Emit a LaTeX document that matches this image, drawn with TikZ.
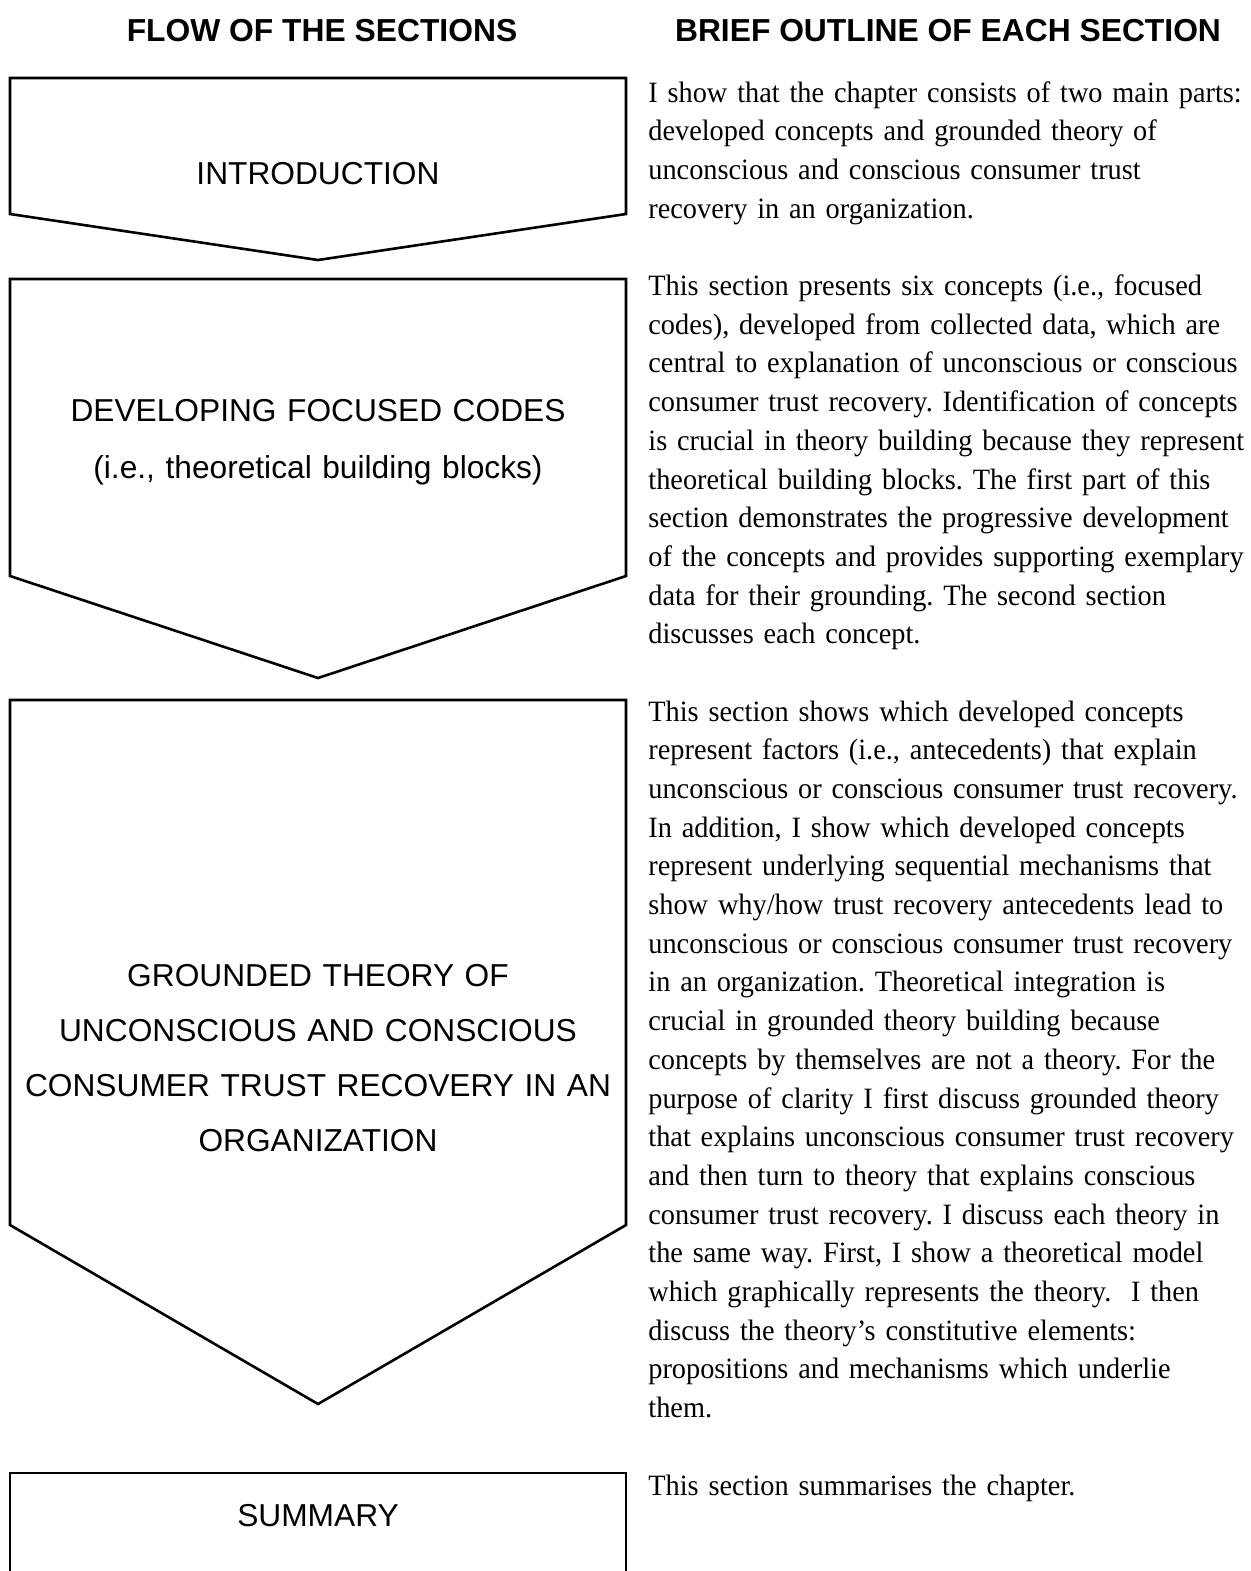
\documentclass[tikz,border=0pt]{standalone}
\usepackage{fontspec}
\setmainfont[FakeStretch=0.96]{Liberation Serif}
\newfontfamily\arialf{Liberation Sans}
\begin{document}
\begin{tikzpicture}[x=0.5pt,y=-0.5pt,
  flowbox/.style={draw=black, line width=1.3pt, line join=miter},
  heading/.style={font=\arialf\bfseries\fontsize{15.9}{19}\selectfont, inner sep=0pt, anchor=base},
  boxlabel/.style={font=\arialf\fontsize{15.85}{#1}\selectfont, text width=300pt, align=center, inner sep=0pt, anchor=base},
  boxlabel/.default=28pt,
  outline/.style={font=\frenchspacing\fontsize{14.75}{19.35}\selectfont, text width=320pt, align=left, inner sep=0pt, anchor=base west}]
\useasboundingbox (0,0) rectangle (1250,1571);
\fill[white] (0,0) rectangle (1250,1571);

% column headings
\node[heading] (hflow) at (322,41) {FLOW OF THE SECTIONS};
\node[heading] (houtline) at (948,41) {BRIEF OUTLINE OF EACH SECTION};

% flow of the sections: pentagon arrows pointing down
\draw[flowbox] (10,78) -- (626,78) -- (626,214) -- (318,260) -- (10,214) -- cycle;
\draw[flowbox] (10,279) -- (626,279) -- (626,576) -- (318,678) -- (10,576) -- cycle;
\draw[flowbox] (10,700) -- (626,700) -- (626,1225) -- (318,1404) -- (10,1225) -- cycle;
\draw[flowbox] (10,1590) -- (10,1473) -- (626,1473) -- (626,1590);

\node[boxlabel] (intro) at (318,184) {INTRODUCTION};
\node[boxlabel=28.5pt] (codes) at (318,421) {DEVELOPING FOCUSED CODES\\(i.e., theoretical building blocks)};
\node[boxlabel=27.5pt] (theory) at (318,986) {GROUNDED THEORY OF\\UNCONSCIOUS AND CONSCIOUS\\CONSUMER TRUST RECOVERY IN AN\\ORGANIZATION};
\node[boxlabel] (summary) at (318,1526) {SUMMARY};

% brief outline of each section
\node[outline] (ointro) at (648,102) {I show that the chapter consists of two main parts:\\
developed concepts and grounded theory of\\
unconscious and conscious consumer trust\\
recovery in an organization.};

\node[outline] (ocodes) at (648,295.5) {This section presents six concepts (i.e., focused\\
codes), developed from collected data, which are\\
central to explanation of unconscious or conscious\\
consumer trust recovery. Identification of concepts\\
is crucial in theory building because they represent\\
theoretical building blocks. The first part of this\\
section demonstrates the progressive development\\
of the concepts and provides supporting exemplary\\
data for their grounding. The second section\\
discusses each concept.};

\node[outline] (otheory) at (648,721) {This section shows which developed concepts\\
represent factors (i.e., antecedents) that explain\\
unconscious or conscious consumer trust recovery.\\
In addition, I show which developed concepts\\
represent underlying sequential mechanisms that\\
show why/how trust recovery antecedents lead to\\
unconscious or conscious consumer trust recovery\\
in an organization. Theoretical integration is\\
crucial in grounded theory building because\\
concepts by themselves are not a theory. For the\\
purpose of clarity I first discuss grounded theory\\
that explains unconscious consumer trust recovery\\
and then turn to theory that explains conscious\\
consumer trust recovery. I discuss each theory in\\
the same way. First, I show a theoretical model\\
which graphically represents the theory.\ \ I then\\
discuss the theory’s constitutive elements:\\
propositions and mechanisms which underlie\\
them.};

\node[outline] (osummary) at (648,1495) {This section summarises the chapter.};
\end{tikzpicture}
\end{document}
